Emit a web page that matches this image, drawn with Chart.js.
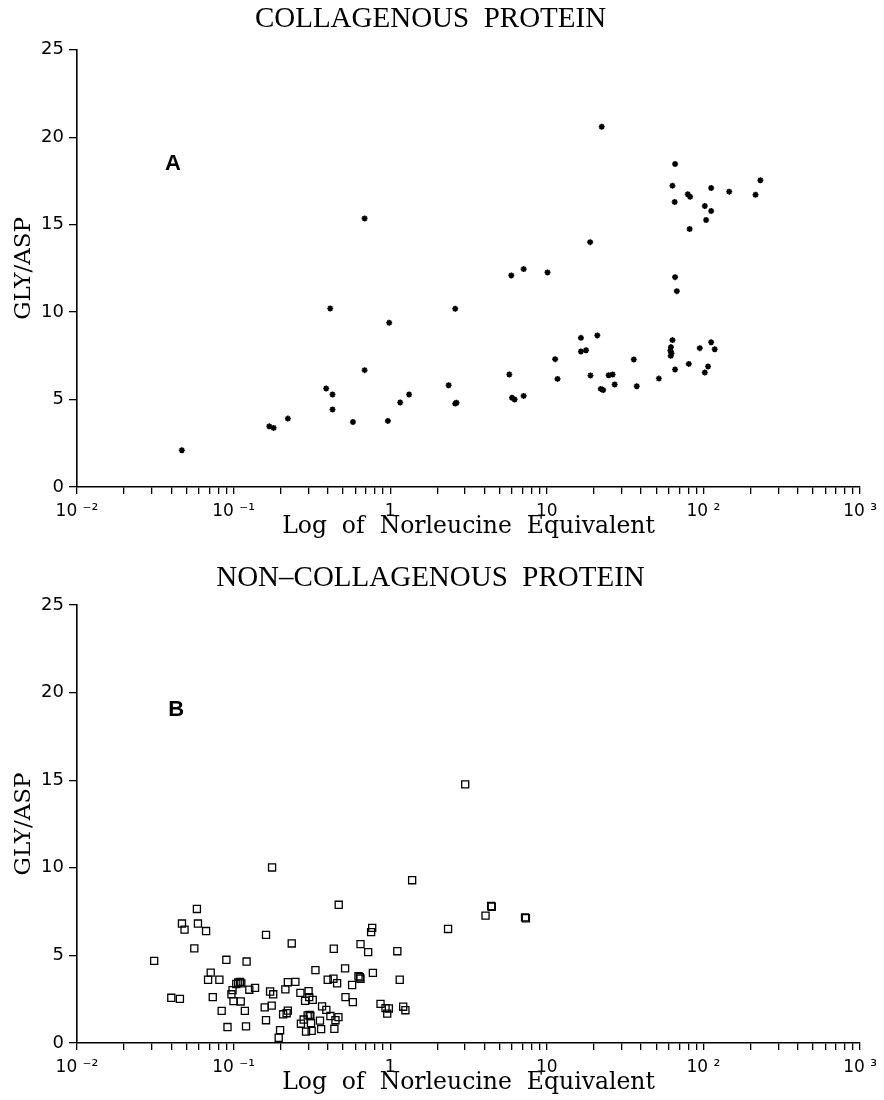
<!DOCTYPE html>
<html>
<head>
<meta charset="utf-8">
<script src="https://cdn.jsdelivr.net/npm/chart.js@4"></script>
<style>
  html, body { margin: 0; padding: 0; background: #fff; }
  #wrap { position: relative; width: 884px; height: 1100px; }
  canvas { position: absolute; left: 0; }
  #chartA { top: 0; }
  #chartB { top: 550px; }
</style>
</head>
<body>
<div id="wrap">
  <canvas id="chartA" width="884" height="550"></canvas>
  <canvas id="chartB" width="884" height="550"></canvas>
</div>
<script>
// Axis ticks
const xTickValues = [0.01, 0.1, 1, 10, 100, 1000];
const xTickLabels = ['10 \u207B\u00B2', '10 \u207B\u00B9', '1', '10', '10 \u00B2', '10 \u00B3'];
const yTickValues = [0, 5, 10, 15, 20, 25];

// Panel A: collagenous protein
const colX = [0.0467, 0.169, 0.180, 0.222, 0.390, 0.414, 0.428, 0.428, 0.578, 0.686,
  0.686, 0.966, 0.985, 1.158, 1.32, 2.36, 2.60, 2.60, 2.65, 5.93,
  7.11, 10.1, 5.76, 5.99, 6.23, 7.11, 11.3, 11.7, 16.5, 16.5,
  17.8, 18.9, 19.0, 21.0, 22.4, 22.1, 22.9, 24.8, 26.3, 27.1,
  35.9, 37.5, 51.9, 63.4, 65.9, 65.5, 65.9, 67.6, 63.4, 62.0,
  61.5, 62.5, 61.8, 65.9, 79.4, 82.2, 81.6, 80.6, 94.7, 102,
  104, 112, 112, 102, 107, 112, 118, 146, 215, 231];
const colY = [2.1, 3.47, 3.38, 3.91, 5.63, 10.21, 5.29, 4.43, 3.72, 15.36,
  6.68, 3.78, 9.39, 4.83, 5.29, 5.82, 10.19, 4.77, 4.82, 12.1,
  12.46, 12.27, 6.43, 5.10, 5.0, 5.21, 7.31, 6.18, 8.53, 7.75,
  7.82, 14.0, 6.38, 8.67, 20.6, 5.61, 5.55, 6.39, 6.43, 5.86,
  7.29, 5.76, 6.2, 17.23, 18.47, 16.3, 12.0, 11.2, 8.4, 8.0,
  7.8, 7.65, 7.5, 6.72, 16.74, 16.6, 14.75, 7.04, 7.94, 16.07,
  15.27, 17.1, 15.78, 6.55, 6.89, 8.28, 7.88, 16.89, 16.71, 17.54];

// Panel B: non-collagenous protein
const ncX = [0.0311, 0.040, 0.0454, 0.0468, 0.0486, 0.0561, 0.0583, 0.0592, 0.0667, 0.0687,
  0.0714, 0.0736, 0.0811, 0.0839, 0.0899, 0.0914, 0.0969, 0.0984, 0.0998, 0.104,
  0.107, 0.110, 0.112, 0.111, 0.118, 0.120, 0.121, 0.126, 0.137, 0.158,
  0.161, 0.161, 0.171, 0.175, 0.176, 0.179, 0.194, 0.198, 0.207, 0.214,
  0.218, 0.222, 0.222, 0.235, 0.248, 0.267, 0.269, 0.280, 0.286, 0.290,
  0.297, 0.301, 0.304, 0.309, 0.306, 0.312, 0.315, 0.320, 0.333, 0.356,
  0.362, 0.367, 0.391, 0.399, 0.415, 0.434, 0.436, 0.440, 0.447, 0.458,
  0.467, 0.469, 0.515, 0.518, 0.571, 0.577, 0.627, 0.640, 0.646, 0.646,
  0.723, 0.755, 0.767, 0.775, 0.867, 0.933, 0.957, 0.980, 1.11, 1.15,
  1.21, 1.25, 1.38, 2.34, 3.01, 4.06, 4.41, 4.45, 7.26, 7.35];
const ncY = [4.69, 2.58, 2.52, 6.82, 6.47, 5.40, 7.65, 6.82, 6.39, 3.61,
  4.02, 2.62, 3.61, 1.83, 4.75, 0.91, 2.78, 3.02, 2.39, 3.37,
  3.45, 3.49, 3.40, 2.37, 1.83, 0.95, 4.65, 3.04, 3.15, 2.03,
  1.30, 6.17, 2.94, 2.13, 10.02, 2.78, 0.30, 0.73, 1.64, 3.06,
  1.70, 1.85, 3.47, 5.68, 3.49, 2.86, 1.10, 1.34, 2.41, 0.65,
  1.58, 2.96, 2.62, 1.54, 1.60, 1.14, 0.69, 2.46, 4.16, 1.28,
  0.79, 2.09, 1.89, 3.61, 1.54, 3.67, 5.38, 0.81, 1.30, 3.41,
  1.48, 7.89, 4.26, 2.62, 3.31, 2.33, 3.81, 3.75, 5.64, 3.67,
  5.19, 6.33, 6.57, 4.00, 2.23, 1.99, 1.68, 1.97, 5.24, 3.61,
  2.07, 1.87, 9.29, 6.51, 14.76, 7.27, 7.82, 7.78, 7.17, 7.12];

window.addEventListener('DOMContentLoaded', () => {
  initPanelA();
  initPanelB();
});

// Panel letter ("A", "B") placed in data coordinates
const panelLetter = {
  id: 'panelLetter',
  afterDatasetsDraw(chart, args, opts) {
    const { ctx, scales: { x, y } } = chart;
    ctx.save();
    ctx.font = 'bold 22px "Liberation Sans Narrow", "Liberation Sans", sans-serif';
    ctx.fillStyle = '#000';
    ctx.textAlign = 'center';
    ctx.textBaseline = 'middle';
    ctx.fillText(opts.text, x.getPixelForValue(opts.x), y.getPixelForValue(opts.y));
    ctx.restore();
  }
};

function toPoints(xs, ys) {
  return xs.map((v, i) => ({ x: v, y: ys[i] }));
}

// Shared log x / linear y axes
function makeScales(xHeight, xTitleBottom) {
  return {
    x: {
      type: 'logarithmic',
      min: 0.01,
      max: 1000,
      afterBuildTicks: (scale) => {
        const ticks = [];
        xTickValues.slice(0, -1).forEach(v => {
          for (let m = 1; m < 10; m++) ticks.push({ value: v * m });
        });
        ticks.push({ value: xTickValues[xTickValues.length - 1] });
        scale.ticks = ticks;
      },
      afterFit: (scale) => { scale.height = xHeight; },
      ticks: {
        autoSkip: false,
        maxRotation: 0,
        padding: 7,
        color: '#000',
        font: { family: '"DejaVu Sans"', size: 17 },
        callback: (value) => {
          const i = xTickValues.findIndex(v => Math.abs(v - value) < v * 1e-6);
          return i >= 0 ? xTickLabels[i] : '';
        }
      },
      grid: { drawOnChartArea: false, drawTicks: true, tickLength: 7, color: '#000', lineWidth: 1.3 },
      border: { display: true, color: '#000', width: 1.6 },
      title: {
        display: true,
        text: 'Log  of  Norleucine  Equivalent',
        color: '#000',
        font: { family: '"DejaVu Serif"', size: 23.5 },
        padding: { top: 0, bottom: xTitleBottom }
      }
    },
    y: {
      min: 0,
      max: 25,
      afterBuildTicks: (scale) => { scale.ticks = yTickValues.map(v => ({ value: v })); },
      afterFit: (scale) => { scale.width = 77; },
      ticks: { padding: 5, color: '#000', font: { family: '"DejaVu Sans"', size: 18 } },
      grid: { drawOnChartArea: false, drawTicks: true, tickLength: 8, color: '#000', lineWidth: 1.3 },
      border: { display: true, color: '#000', width: 1.6 },
      title: {
        display: true,
        text: 'GLY/ASP',
        color: '#000',
        font: { family: '"DejaVu Serif"', size: 23 },
        padding: { top: 10, bottom: 0 }
      }
    }
  };
}

// Panel A
function initPanelA() {
  const ctx = document.getElementById('chartA').getContext('2d');
  window.chartA = new Chart(ctx, {
    type: 'scatter',
    data: {
      datasets: [{
        label: 'Collagenous',
        data: toPoints(colX, colY),
        pointStyle: 'star',
        pointRadius: 3,
        borderWidth: 1.6,
        borderColor: '#000',
        backgroundColor: '#000'
      }]
    },
    options: {
      responsive: false,
      animation: false,
      layout: { padding: { left: 0, right: 23, top: 0, bottom: 0 } },
      scales: makeScales(63, 9),
      plugins: {
        legend: { display: false },
        tooltip: { enabled: false },
        title: {
          display: true,
          text: 'COLLAGENOUS  PROTEIN',
          color: '#000',
          font: { family: '"Liberation Serif"', size: 29, weight: 'normal' },
          padding: { top: 2, bottom: 13 }
        },
        panelLetter: { text: 'A', x: 0.041, y: 18.5 }
      }
    },
    plugins: [panelLetter]
  });
}

// Panel B
function initPanelB() {
  const ctx = document.getElementById('chartB').getContext('2d');
  window.chartB = new Chart(ctx, {
    type: 'scatter',
    data: {
      datasets: [{
        label: 'Non-collagenous',
        data: toPoints(ncX, ncY),
        pointStyle: 'rect',
        pointRadius: 5,
        borderWidth: 1.3,
        borderColor: '#000',
        backgroundColor: 'rgba(0,0,0,0)'
      }]
    },
    options: {
      responsive: false,
      animation: false,
      layout: { padding: { left: 0, right: 23, top: 0, bottom: 0 } },
      scales: makeScales(57, 3),
      plugins: {
        legend: { display: false },
        tooltip: { enabled: false },
        title: {
          display: true,
          text: 'NON\u2013COLLAGENOUS  PROTEIN',
          color: '#000',
          font: { family: '"Liberation Serif"', size: 29, weight: 'normal' },
          padding: { top: 10.6, bottom: 9.6 }
        },
        panelLetter: { text: 'B', x: 0.043, y: 19.0 }
      }
    },
    plugins: [panelLetter]
  });
}
</script>
</body>
</html>
